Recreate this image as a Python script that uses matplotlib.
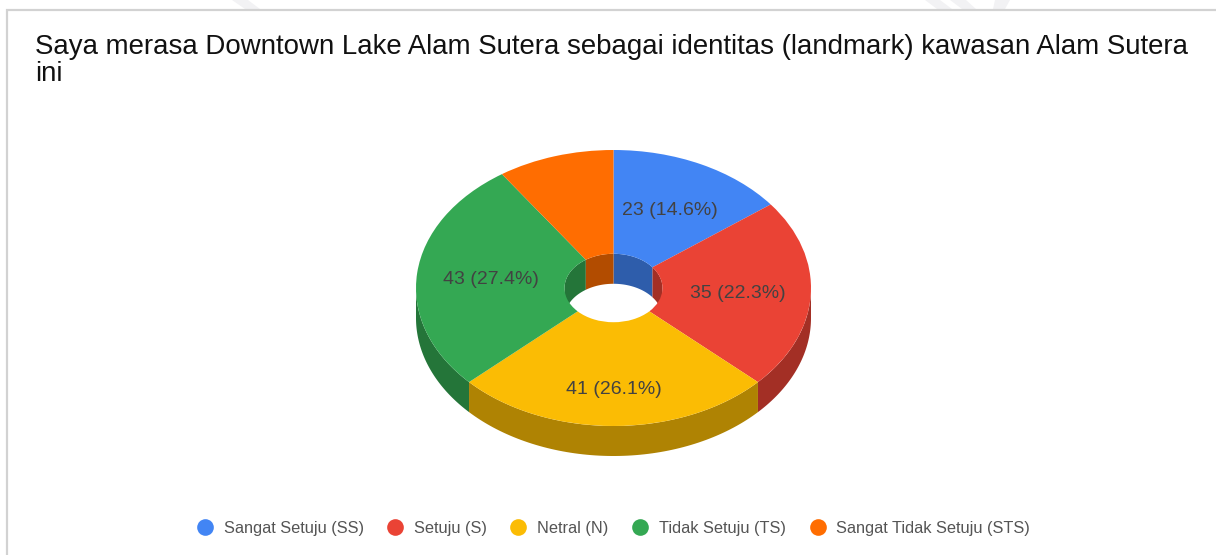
import numpy as np
import matplotlib
matplotlib.use("Agg")
import matplotlib.pyplot as plt
from matplotlib.lines import Line2D

# --- Data ---
categories = ["Sangat Setuju (SS)", "Setuju (S)", "Netral (N)", "Tidak Setuju (TS)", "Sangat Tidak Setuju (STS)"]
counts = [23, 35, 41, 43, 15]
colors = ["#4285F4", "#EA4335", "#FBBC04", "#34A853", "#FF6D01"]
wall_colors = ["#2E5DAB", "#A32F25", "#AF8303", "#247539", "#B24C00"]
title = "Saya merasa Downtown Lake Alam Sutera sebagai identitas (landmark) kawasan Alam Sutera\nini"

# --- Layout, in pixels of the 1216x555 picture ---
W, H = 1216, 555
CX, CY = 613.5, 288
RX, RY = 197.5, 138
DEPTH = 30 / RY  # wall height in pie units
HOLE = 0.248

plt.rcParams['font.family'] = ['Liberation Sans', 'DejaVu Sans']
fig = plt.figure(figsize=(W / 100, H / 100), dpi=100, facecolor="white")

# page axes: chart frame and the bits of watermark above it
bg = fig.add_axes([0, 0, 1, 1])
bg.set_xlim(0, W)
bg.set_ylim(H, 0)
bg.axis("off")
for xs in [(232, 248, 260, 245), (940, 925, 937, 952), (950, 966, 976, 962), (995, 1010, 1005, 993)]:
    bg.fill(xs, (0, 0, 9, 9), color="#f2f2f4", lw=0)
bg.plot([6.5, 6.5, W], [H, 10, 10], color="#d2d2d2", lw=1.6, solid_joinstyle="miter")
bg.text(35, 60.5, title, fontsize=19.9, color="#111111", va="center", ha="left", linespacing=1.07)

# pie axes: -1..1 covers the top ellipse exactly, so the circle gets squashed
ax = fig.add_axes([(CX - RX) / W, (H - CY - RY) / H, 2 * RX / W, 2 * RY / H])


def label_fmt(pct):
    n = int(round(pct * sum(counts) / 100))
    return f"{n} ({pct:.1f}%)" if pct >= 10 else ""


# side walls first, top surface goes over them
edges = 90 - 360 * np.cumsum([0] + counts) / sum(counts)
for i in range(len(counts)):
    hi, lo = edges[i], edges[i + 1]

    # outer wall, front half only (180..360 degrees)
    for shift in (0, -360):
        a = max(lo, 180 + shift)
        b = min(hi, 360 + shift)
        if b > a:
            t = np.radians(np.linspace(a, b, 80))
            x = np.cos(t)
            y = np.sin(t)
            ax.fill(np.r_[x, x[::-1]], np.r_[y, y[::-1] - DEPTH], color=wall_colors[i], lw=0, clip_on=False, zorder=1)

    # inner wall of the hole, back half only (0..180 degrees)
    for shift in (0, -360):
        a = max(lo, 0 + shift)
        b = min(hi, 180 + shift)
        if b > a:
            t = np.radians(np.linspace(a, b, 60))
            x = HOLE * np.cos(t)
            y = HOLE * np.sin(t)
            ax.fill(np.r_[x, x[::-1]], np.r_[y, y[::-1] - DEPTH], color=wall_colors[i], lw=0, clip_on=False, zorder=1)

wedges, _, autotexts = ax.pie(
    counts, colors=colors, startangle=90, counterclock=False, radius=1,
    wedgeprops={"width": 1 - HOLE, "linewidth": 0, "zorder": 2},
    autopct=label_fmt, pctdistance=0.64,
    textprops={"fontsize": 14, "color": "#424242"},
)
ax.set_aspect("auto")
ax.set_xlim(-1, 1)
ax.set_ylim(-1, 1)
for w in wedges:
    w.set_clip_on(False)

# label nudges in pixels, the reference does not sit labels quite on the slice centre
nudge_x = [0, -2, 0, 3, 0]
nudge_y = [2, 1, 13, 1, 0]
for t, dx, dy in zip(autotexts, nudge_x, nudge_y):
    px, py = t.get_position()
    t.set_position((px + dx / RX, py - dy / RY))
    t.set_zorder(5)

# --- Legend ---
handles = [Line2D([], [], marker="o", ls="", ms=12, mfc=c, mec=c, mew=0) for c in colors]
bg.legend(handles, categories, loc="center", bbox_to_anchor=(612.5 / W, (H - 528) / H), ncol=5,
          frameon=False, fontsize=11.8, labelcolor="#555555", handletextpad=0.55,
          columnspacing=1.33, borderpad=0, handlelength=1.2)

fig.savefig("out.png", dpi=100, facecolor="white")
